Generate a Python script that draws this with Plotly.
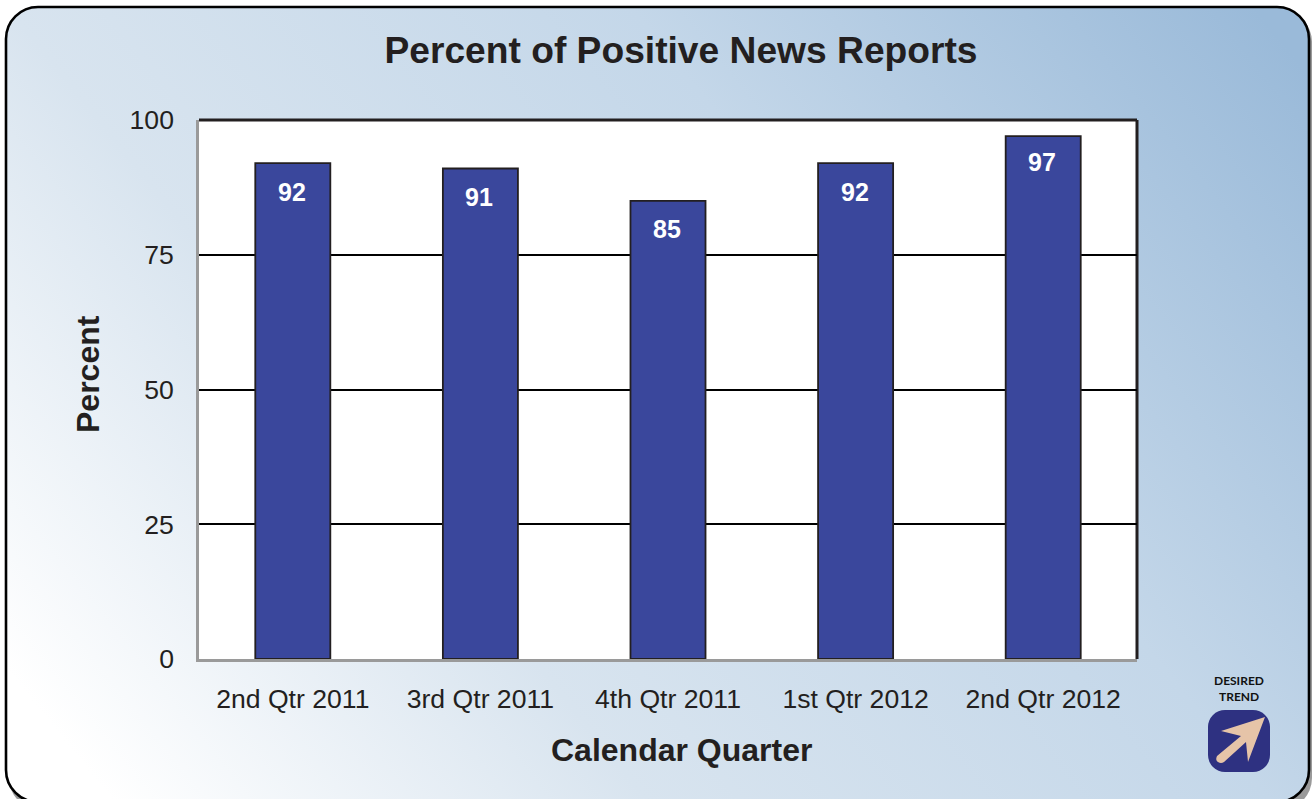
import base64
import plotly.graph_objects as go

TITLE = "Percent of Positive News Reports"
X_TITLE = "Calendar Quarter"
Y_TITLE = "Percent"
quarters = ["2nd Qtr 2011", "3rd Qtr 2011", "4th Qtr 2011", "1st Qtr 2012", "2nd Qtr 2012"]
percent = [92, 91, 85, 92, 97]
y_ticks = [0, 25, 50, 75, 100]

W, H = 1312, 799
L, R, T, B = 199, 175, 120, 140
PW, PH = W - L - R, H - T - B
INK = "#231f20"
FONT = "Liberation Sans, Arial, sans-serif"

svg = f'''<svg xmlns="http://www.w3.org/2000/svg" width="{W}" height="{H}" viewBox="0 0 {W} {H}">
<defs><linearGradient id="g" gradientUnits="userSpaceOnUse" x1="120" y1="810" x2="1200" y2="-60">
<stop offset="0" stop-color="#ffffff"/><stop offset="0.3" stop-color="#d8e4ef"/><stop offset="0.65" stop-color="#c4d7e9"/><stop offset="1" stop-color="#9abad9"/>
</linearGradient></defs>
<rect x="0" y="0" width="{W}" height="{H}" fill="#ffffff"/>
<rect x="9" y="10" width="1303" height="800" rx="32" fill="#9a9a9a"/>
<rect x="6" y="7" width="1303" height="795" rx="32" fill="url(#g)" stroke="#000000" stroke-width="2.6"/>
<rect x="1208" y="710" width="62" height="62" rx="17" fill="#2e3181"/>
<path d="M1265 717 L1221 731 L1241 736 L1217 756 Q1215 760 1218 762 Q1221 764 1224 762 L1246 742 L1248 762 Z" fill="#e6c4a8"/>
</svg>'''
bg = "data:image/svg+xml;base64," + base64.b64encode(svg.encode()).decode()

fig = go.Figure(go.Bar(
    x=quarters, y=percent,
    marker=dict(color="#3a479c", line=dict(color=INK, width=1.8)),
    hoverinfo="x+y",
))

for q, v in zip(quarters, percent):
    fig.add_annotation(x=q, y=v, yshift=-25.5 if v == max(percent) else -28.5, xshift=-1, yanchor="middle",
                       showarrow=False, text=f"<b>{v}</b>",
                       font=dict(family=FONT, size=25, color="#ffffff"))

for text, y in (("DESIRED", 680), ("TREND", 696)):
    fig.add_annotation(xref="paper", yref="paper", x=(1239 - L) / PW, y=1 - (y - T) / PH,
                       text=f"<b>{text}</b>", showarrow=False, xanchor="center", yanchor="middle",
                       font=dict(family="Lato, sans-serif", size=12, color="#111111"))

fig.add_annotation(xref="paper", yref="paper", x=(681 - L) / PW, y=1 - (750 - T) / PH,
                   text=f"<b>{X_TITLE}</b>", showarrow=False, xanchor="center", yanchor="middle",
                   font=dict(family=FONT, size=32, color=INK))
fig.add_annotation(xref="paper", yref="paper", x=(88 - L) / PW, y=1 - (374 - T) / PH,
                   text=f"<b>{Y_TITLE}</b>", textangle=-90, showarrow=False, xanchor="center", yanchor="middle",
                   font=dict(family=FONT, size=32, color=INK))

fig.add_shape(type="rect", xref="x domain", yref="y domain", x0=0, x1=1, y0=0, y1=1, layer="below",
              fillcolor="#ffffff", line=dict(width=0))
fig.add_shape(type="line", xref="x domain", yref="y domain", x0=0, x1=1, y0=1, y1=1, layer="below",
              line=dict(color=INK, width=3))
fig.add_shape(type="line", xref="x domain", yref="y domain", x0=1, x1=1, y0=0, y1=1, layer="below",
              line=dict(color=INK, width=3))

fig.update_layout(
    width=W, height=H,
    margin=dict(l=L, r=R, t=T, b=B, pad=0),
    paper_bgcolor="#ffffff", plot_bgcolor="rgba(0,0,0,0)",
    bargap=0.6, showlegend=False,
    font=dict(family=FONT, color=INK),
    title=dict(text=f"<b>{TITLE}</b>", x=681 / W, xanchor="center", y=1 - 50 / H, yanchor="middle",
               font=dict(family=FONT, size=37.2, color=INK)),
    images=[dict(source=bg, xref="paper", yref="paper", x=-L / PW, y=1 + T / PH,
                 sizex=W / PW, sizey=H / PH, xanchor="left", yanchor="top",
                 sizing="stretch", layer="below")],
    xaxis=dict(type="category", showgrid=False, showline=True, linecolor="#9a9a9a", linewidth=2.5,
               ticks="", ticklabelstandoff=14, tickfont=dict(family=FONT, size=26.6, color=INK),
               automargin=False),
    yaxis=dict(range=[0, 100], tickvals=y_ticks, showgrid=True, gridcolor="#000000", gridwidth=2,
               zeroline=False, showline=True, linecolor="#9a9a9a", linewidth=2.5, ticks="",
               ticklabelstandoff=17, tickfont=dict(family=FONT, size=26.6, color=INK),
               automargin=False),
)

fig.write_html("out.html", config={"displayModeBar": False},
               post_script="document.body.style.margin='0';document.documentElement.style.overflow='hidden';")
